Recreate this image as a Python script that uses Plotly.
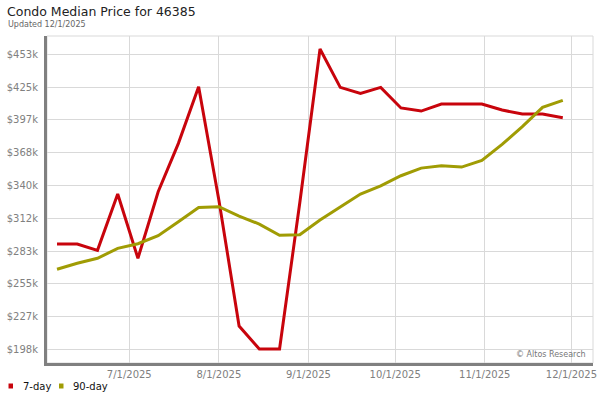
import pandas as pd
import plotly.graph_objects as go

# weekly points, 6/6/2025 .. 11/28/2025
dates = pd.date_range("2025-06-06", periods=26, freq="7D")

# median price, in $k
price_7day = [289.3, 289.3, 283.9, 332.6, 277.0, 334.6, 376.4, 425.3, 327.5, 218.5,
              198.6, 198.6, 325.0, 457.9, 424.8, 419.6, 424.8, 407.0, 404.3, 410.4,
              410.4, 410.4, 405.2, 401.7, 401.7, 398.5]
price_90day = [267.5, 272.7, 277.0, 285.6, 289.6, 296.5, 308.6, 321.0, 321.6, 313.5,
               306.6, 296.9, 297.4, 310.1, 321.3, 332.6, 339.7, 348.4, 355.0, 357.0,
               355.9, 361.7, 375.5, 390.8, 407.5, 413.6]

y_tickvals = [198.33, 226.67, 255.0, 283.33, 311.67, 340.0, 368.33, 396.67, 425.0, 453.33]
y_ticktext = ["$198k", "$227k", "$255k", "$283k", "$312k", "$340k", "$368k", "$397k", "$425k", "$453k"]

series_names = ["7-day", "90-day"]

RED = "#c8040c"
OLIVE = "#a09c04"
FONT = "DejaVu Sans"

# plot area in pixels, used to place the decorations
L, T, W, H = 47, 36, 546.3, 327


def px(x):
    return (x - L) / W


def py(y):
    return (T + H - y) / H


fig = go.Figure()

fig.add_trace(go.Scatter(x=dates, y=price_7day, mode="lines", name=series_names[0],
                         line=dict(color=RED, width=3)))
fig.add_trace(go.Scatter(x=dates, y=price_90day, mode="lines", name=series_names[1],
                         line=dict(color=OLIVE, width=3)))

# light frame on top / right
fig.add_shape(type="rect", xref="paper", yref="paper", x0=0, x1=1, y0=0, y1=1,
              line=dict(color="#d9d9d9", width=1), layer="below")

# legend at the bottom: small squares + labels
annotations = []
for name, color, sq_x, txt_x in [(series_names[0], RED, 8.5, 20.5),
                                 (series_names[1], OLIVE, 59, 71.5)]:
    fig.add_shape(type="rect", xref="paper", yref="paper",
                  x0=px(sq_x), x1=px(sq_x + 4.5), y0=py(388.5), y1=py(383.5),
                  fillcolor=color, line=dict(width=0))
    annotations.append(dict(text=name, xref="paper", yref="paper",
                            x=px(txt_x), y=py(386.5), xanchor="left", yanchor="middle",
                            showarrow=False,
                            font=dict(family=FONT, size=10, color="#111111")))

annotations += [
    dict(text="Updated 12/1/2025", xref="paper", yref="paper",
         x=px(5.5), y=py(25), xanchor="left", yanchor="middle",
         showarrow=False, font=dict(family=FONT, size=8, color="#666666")),
    dict(text="© Altos Research", xref="paper", yref="paper",
         x=px(588), y=py(354), xanchor="right", yanchor="middle",
         showarrow=False, font=dict(family=FONT, size=8, color="#777777")),
]

fig.update_layout(
    width=600, height=400,
    margin=dict(l=L, r=7, t=T, b=37, autoexpand=False),
    paper_bgcolor="white", plot_bgcolor="white",
    font=dict(family=FONT, size=10, color="#808080"),
    title=dict(text="Condo Median Price for 46385", x=7 / 600, xanchor="left",
               y=1 - 12 / 400, yanchor="middle",
               font=dict(family=FONT, size=12.5, color="#222222")),
    showlegend=False,
    xaxis=dict(type="date", range=["2025-06-02 12:45", "2025-12-08 11:00"],
               tick0="2025-07-01", dtick="M1", tickformat="%-m/%-d/%Y",
               showgrid=True, gridcolor="#d9d9d9", gridwidth=1,
               showline=True, linecolor="#808080", linewidth=3,
               ticks="", zeroline=False, tickfont=dict(size=10, color="#808080")),
    yaxis=dict(range=[186.5, 469.2], tickvals=y_tickvals, ticktext=y_ticktext,
               showgrid=True, gridcolor="#d9d9d9", gridwidth=1,
               showline=True, linecolor="#808080", linewidth=3,
               ticks="", zeroline=False, ticklabelstandoff=4,
               tickfont=dict(size=10, color="#808080")),
    annotations=annotations,
)

# page body has an 8px default margin; drop it so the 600x400 figure fills the window
fig.write_html("out.html", config={"displayModeBar": False},
               post_script="document.body.style.margin='0';")
